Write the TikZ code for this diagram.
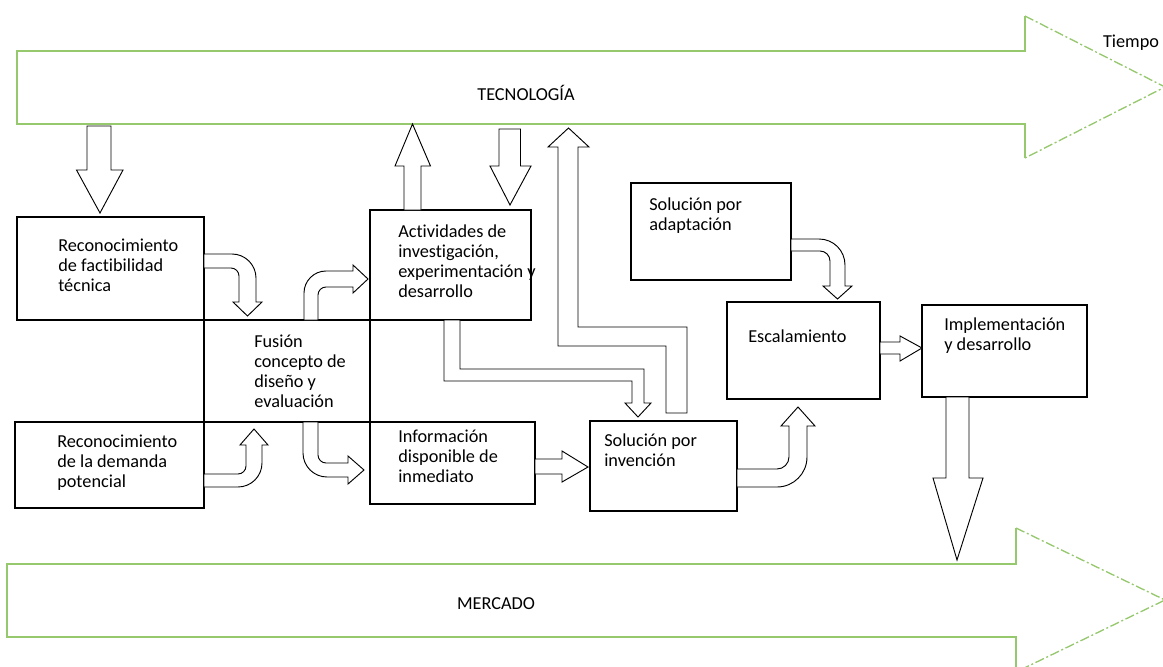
\documentclass[tikz,border=0pt]{standalone}
\usepackage{fontspec}
\setmainfont{Carlito}[Ligatures={NoCommon}]
\usetikzlibrary{fit}
\definecolor{bandgreen}{RGB}{150,200,110}
\newcommand{\bodyfont}{\fontsize{13.7}{15}\selectfont}
\tikzset{
  box/.style={draw, line width=0.9pt, inner sep=0pt},
  blk/.style={draw, fill=white, line width=0.7pt, line join=miter},
  txt/.style={align=left, anchor=west, inner sep=0pt, font=\bodyfont},
  band/.style={draw=bandgreen, line width=1pt},
  bandhead/.style={draw=bandgreen, line width=1pt, dash pattern=on 7pt off 2pt on 1.5pt off 2pt}
}
\begin{document}
\begin{tikzpicture}[x=0.75pt, y=-0.75pt]
\useasboundingbox (0,0) rectangle (1163,667);

% wide timeline arrows
\draw[band] (1025,16) -- (1025,51) -- (17,51) -- (17,124) -- (1025,124) -- (1025,158);
\draw[bandhead] (1025,16) -- (1165,87) -- (1025,158);
\draw[band] (1016,528) -- (1016,564) -- (7,564) -- (7,637) -- (1016,637) -- (1016,672);
\draw[bandhead] (1016,528) -- (1165,600) -- (1016,672);
\node[font=\bodyfont] (tecno) at (526,93) {TECNOLOGÍA};
\node[font=\bodyfont] (merc) at (496,604) {MERCADO};
\node[font=\bodyfont] (tiempo) at (1131,43) {Tiempo};

% boxes
\node[box, fit={(17,217) (204,320)}] (recA) {};
\node[box, fit={(204,320) (370,422)}] (fusion) {};
\node[box, fit={(15,422) (204,508)}] (recB) {};
\node[box, fit={(370,210) (531,320)}] (activ) {};
\node[box, fit={(370,422) (535,504)}] (info) {};
\node[box, fit={(590,421) (737,511)}] (invencion) {};
\node[box, fit={(631,183) (791,280)}] (adapt) {};
\node[box, fit={(727,302) (880,399)}] (escal) {};
\node[box, fit={(922,305) (1087,397)}] (implem) {};

% straight block arrows
\draw[blk] (87,126) -- (111,126) -- (111,170) -- (123,170) -- (100,213) -- (76.5,170) -- (87,170) -- cycle;
\draw[blk] (404,210) -- (404,166) -- (395,166) -- (412.5,124) -- (430.5,166) -- (421,166) -- (421,210) -- cycle;
\draw[blk] (499,129) -- (520.5,129) -- (520.5,166) -- (531,166) -- (510,205) -- (490,166) -- (499,166) -- cycle;
\draw[blk] (666,413) -- (687,413) -- (687,327) -- (578,327) -- (578,147) -- (589,147) -- (568.5,128) -- (548,147) -- (558,147) -- (558,346) -- (666,346) -- cycle;
\draw[blk] (444,320) -- (460,320) -- (460,369) -- (644,369) -- (644,403) -- (651,403) -- (638,417) -- (625,403) -- (632,403) -- (632,381) -- (444,381) -- cycle;
\draw[blk] (535,459) -- (562,459) -- (562,451) -- (588,467) -- (562,482) -- (562,474) -- (535,474) -- cycle;
\draw[blk] (880,342) -- (900,342) -- (900,336) -- (922,348) -- (900,361) -- (900,354) -- (880,354) -- cycle;
\draw[blk] (946,397) -- (946,478) -- (933,478) -- (957,560) -- (983,478) -- (969,478) -- (969,397) -- cycle;

% bent block arrows
\draw[blk] (204,254) -- (232,254) .. controls (245.2,254) and (256,264.8) .. (256,278) -- (256,302) -- (262,302) -- (247.5,316) -- (233,302) -- (239,302) -- (239,276) .. controls (239,271.6) and (235.4,268) .. (231,268) -- (204,268) -- cycle;
\draw[blk] (304,320) -- (304,293) .. controls (304,280.9) and (313.9,271) .. (326,271) -- (353,271) -- (353,265) -- (368,279) -- (353,293) -- (353,287) -- (326,287) .. controls (321.6,287) and (318,290.6) .. (318,295) -- (318,320) -- cycle;
\draw[blk] (204,474) -- (238,474) .. controls (242.4,474) and (246,470.4) .. (246,466) -- (246,445) -- (240,445) -- (254,429) -- (268,445) -- (262,445) -- (262,463) .. controls (262,476.2) and (251.2,487) .. (238,487) -- (204,487) -- cycle;
\draw[blk] (303,422) -- (318,422) -- (318,455) .. controls (318,459.4) and (321.6,463) .. (326,463) -- (348,463) -- (348,456) -- (364,470) -- (348,484) -- (348,477) -- (327,477) .. controls (313.8,477) and (303,466.2) .. (303,453) -- cycle;
\draw[blk] (791,239) -- (819,239) .. controls (833.4,239) and (845,250.6) .. (845,265) -- (845,286) -- (852,286) -- (837.5,299) -- (823,286) -- (830,286) -- (830,261) .. controls (830,255.5) and (825.5,251) .. (820,251) -- (791,251) -- cycle;
\draw[blk] (737,469) -- (777,469) .. controls (783.6,469) and (789,463.6) .. (789,457) -- (789,426) -- (781,426) -- (798,407) -- (815,426) -- (807,426) -- (807,457) .. controls (807,473.6) and (793.6,487) .. (777,487) -- (737,487) -- cycle;

% box texts
\node[txt] (tRecA) at (58,267) {\strut Reconocimiento\\\strut de factibilidad\\\strut técnica};
\node[txt] (tRecB) at (57,463) {\strut Reconocimiento\\\strut de la demanda\\\strut potencial};
\node[txt] (tFusion) at (254,373) {\strut Fusión\\\strut concepto de\\\strut diseño y\\\strut evaluación};
\node[txt] (tActiv) at (398,263) {\strut Actividades de\\\strut investigación,\\\strut experimentación y\\\strut desarrollo};
\node[txt] (tInfo) at (398,458) {\strut Información\\\strut disponible de\\\strut inmediato};
\node[txt] (tAdapt) at (649,216) {\strut Solución por\\\strut adaptación};
\node[txt] (tInv) at (604,452) {\strut Solución por\\\strut invención};
\node[txt] (tEscal) at (748,338) {\strut Escalamiento};
\node[txt] (tImpl) at (944,336) {\strut Implementación\\\strut y desarrollo};
\end{tikzpicture}
\end{document}
